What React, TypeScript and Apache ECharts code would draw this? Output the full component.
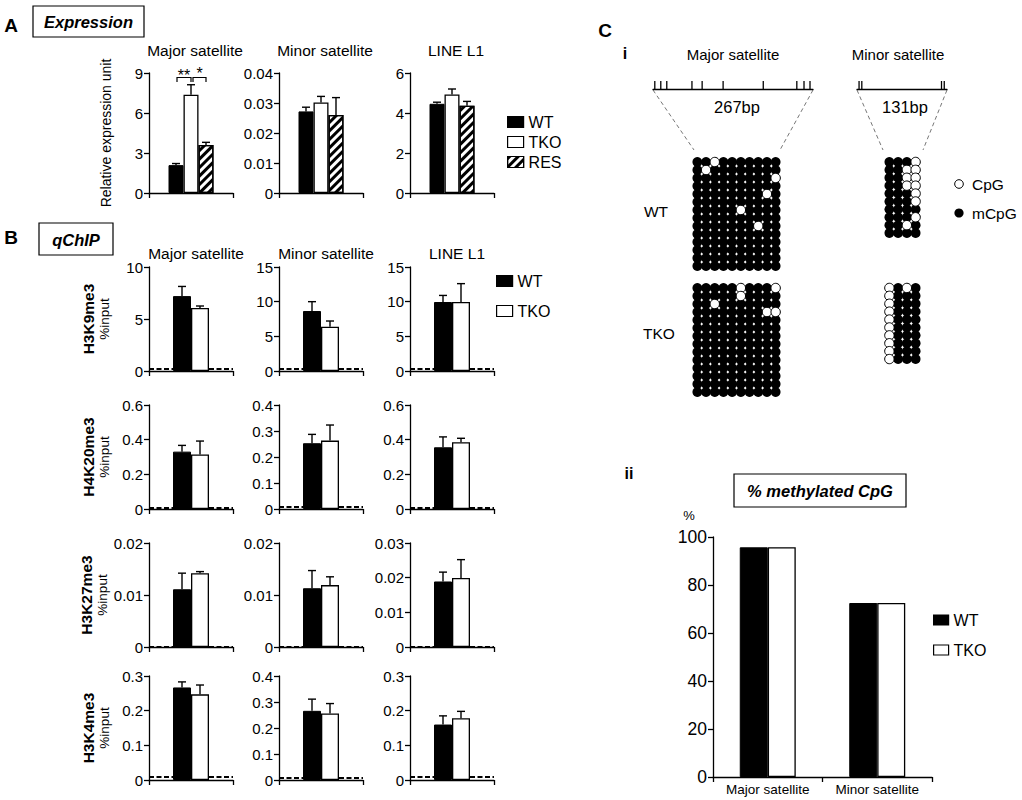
import React, { useEffect, useRef } from 'react';
import * as echarts from 'echarts';

const FONT = "'Liberation Sans', Arial, Helvetica, sans-serif";

// ---------- Panel A: expression ----------
const exprGroups = ['WT', 'TKO', 'RES'];
const exprTargets = ['Major satellite', 'Minor satellite', 'LINE L1'];
const exprMajor = [2.09, 7.37, 3.6];
const exprMajorErr = [0.12, 0.75, 0.2];
const exprMinor = [0.0272, 0.0302, 0.026];
const exprMinorErr = [0.0014, 0.002, 0.0058];
const exprLine = [4.46, 4.93, 4.36];
const exprLineErr = [0.08, 0.27, 0.22];
const exprAxisMax = [9, 0.04, 6];
const exprAxisStep = [3, 0.01, 2];

// ---------- Panel B: qChIP ----------
const chipMarks = ['H3K9me3', 'H4K20me3', 'H3K27me3', 'H3K4me3'];
const chipGroups = ['WT', 'TKO'];
const chipWT = [[7.2, 8.65, 9.95], [0.331, 0.253, 0.356], [0.0111, 0.0113, 0.0189], [0.267, 0.266, 0.16]];
const chipWTErr = [[0.93, 1.35, 0.95], [0.036, 0.034, 0.06], [0.0031, 0.0034, 0.0027], [0.016, 0.045, 0.025]];
const chipTKO = [[6.06, 6.39, 9.95], [0.315, 0.263, 0.385], [0.0142, 0.0119, 0.0199], [0.247, 0.256, 0.178]];
const chipTKOErr = [[0.19, 0.82, 2.65], [0.077, 0.06, 0.023], [0.0003, 0.0016, 0.0053], [0.027, 0.038, 0.02]];
const chipBackground = [[0.18, 0.27, 0.27], [0.011, 0.007, 0.011], [0.0008, 0.0008, 0.0012], [0.0055, 0.007, 0.0055]];
const chipAxisMax = [[10, 15, 15], [0.6, 0.4, 0.6], [0.02, 0.02, 0.03], [0.3, 0.4, 0.3]];
const chipAxisStep = [[5, 5, 5], [0.2, 0.1, 0.2], [0.01, 0.01, 0.01], [0.1, 0.1, 0.1]];

// ---------- Panel C i: bisulfite sequencing ----------
const majorCpGbp = [3, 13, 23, 65, 82, 117, 184, 240, 252, 262];
const majorLength = 267;
const minorCpGbp = [3, 7, 123, 127];
const minorLength = 131;
// 1 = methylated CpG, 0 = unmethylated CpG
const majorWT = [
  '1101111111', '1011111111', '1111111110', '1111111111', '1111111101', '1111111111', '1111101111',
  '1111111111', '1111111011', '1111111111', '1111111111', '1111111111', '1111111111', '1111111111',
];
const majorTKO = [
  '1111101110', '1111101111', '1101111111', '1111111100', '1111111111', '1111111111', '1111111111',
  '1111111111', '1111111111', '1111111111', '1111111111', '1111111111', '1111111111', '1111111111',
];
const minorWT = ['1110', '1100', '1100', '1100', '1110', '1110', '1111', '1110', '1101', '1111'];
const minorTKO = ['0101', '0111', '0111', '0111', '0111', '0111', '0111', '0111', '0111', '0111'];

// ---------- Panel C ii ----------
const methylCategories = ['Major satellite', 'Minor satellite'];
const methylWT = [95.7, 72.5];
const methylTKO = [95.7, 72.5];

function barStyle(name: string): any {
  if (name === 'WT') return { color: '#000', borderColor: '#000', borderWidth: 1 };
  if (name === 'TKO') return { color: '#fff', borderColor: '#000', borderWidth: 1.3 };
  return {
    color: '#fff', borderColor: '#000', borderWidth: 1.3,
    decal: { symbol: 'rect', symbolSize: 1, dashArrayX: [1, 0], dashArrayY: [2.5, 3], rotation: -Math.PI / 4, color: '#000' },
  };
}

function txt(x: number, y: number, t: string, size: number, opt: any = {}) {
  return {
    type: 'text', x, y, silent: true,
    style: {
      text: t, fill: '#000', fontSize: size, fontFamily: FONT,
      fontWeight: opt.bold ? 'bold' : 'normal', fontStyle: opt.italic ? 'italic' : 'normal',
      textAlign: opt.align || 'center', textVerticalAlign: 'middle',
      align: opt.align || 'center', verticalAlign: 'middle',
    },
  };
}

function buildOption() {
  const grid: any[] = [];
  const xAxis: any[] = [];
  const yAxis: any[] = [];
  const series: any[] = [];
  const g: any[] = [];
  const axisLine = { show: true, lineStyle: { color: '#000', width: 1.3 } };
  const axisTick = { show: true, length: 5, lineStyle: { color: '#000', width: 1.3 } };

  function barChart(o: any) {
    const gi = grid.length;
    grid.push({ left: o.left, top: o.top, width: o.width, height: o.height });
    xAxis.push({
      gridIndex: gi, type: 'category', data: [''], axisLine, axisTick,
      axisLabel: { show: false }, splitLine: { show: false },
    });
    yAxis.push({
      gridIndex: gi, type: 'value', min: 0, max: o.max, interval: o.step, axisLine, axisTick,
      axisLabel: { color: '#000', fontSize: 15, fontFamily: FONT, margin: 6 },
      splitLine: { show: false },
      name: o.yName || '', nameLocation: 'middle', nameGap: o.yNameGap || 40, nameRotate: 90,
      nameTextStyle: {
        color: '#000', fontSize: 14, fontFamily: FONT, align: 'center',
        rich: {
          a: { fontSize: 15.5, fontWeight: 'bold', fontFamily: FONT, color: '#000', lineHeight: 17 },
          b: { fontSize: 13.5, fontFamily: FONT, color: '#000', lineHeight: 15 },
        },
      },
    });
    o.names.forEach((nm: string, i: number) => {
      const s: any = {
        type: 'bar', name: nm, xAxisIndex: gi, yAxisIndex: gi, data: [o.values[i]],
        barWidth: o.barWidth, barGap: '0%', itemStyle: barStyle(nm), z: 2,
      };
      if (i === 0 && o.background != null) {
        s.markLine = {
          z: 1, silent: true, symbol: ['none', 'none'], label: { show: false },
          lineStyle: { type: [5, 2.5], color: '#000', width: 1.8, opacity: 1 },
          emphasis: { disabled: true },
          data: [{ yAxis: o.background }],
        };
      }
      series.push(s);
    });
    const n = o.names.length;
    const bw = o.barWidth;
    series.push({
      type: 'custom', name: 'err', xAxisIndex: gi, yAxisIndex: gi, z: 5,
      data: o.values.map((v: number, i: number) => [0, v, o.errs[i], i]),
      encode: { x: 0, y: 1 },
      renderItem: (_p: any, api: any) => {
        const v = api.value(1);
        const e = api.value(2);
        const i = api.value(3);
        const base = api.coord([0, v]);
        const top = api.coord([0, v + e]);
        const x = base[0] + (i - (n - 1) / 2) * bw;
        return {
          type: 'group',
          children: [
            { type: 'line', shape: { x1: x, y1: base[1], x2: x, y2: top[1] }, style: { stroke: '#000', lineWidth: 1.4 } },
            { type: 'line', shape: { x1: x - 4, y1: top[1], x2: x + 4, y2: top[1] }, style: { stroke: '#000', lineWidth: 1.4 } },
          ],
        };
      },
    });
  }

  const colLeft = [149, 279, 410];
  const colWidth = 84;

  // Panel A
  const exprVals = [exprMajor, exprMinor, exprLine];
  const exprErrs = [exprMajorErr, exprMinorErr, exprLineErr];
  exprTargets.forEach((t, j) => {
    barChart({
      left: colLeft[j], top: 73, width: colWidth, height: 120, max: exprAxisMax[j], step: exprAxisStep[j],
      names: exprGroups, values: exprVals[j], errs: exprErrs[j], barWidth: 15,
      yName: j === 0 ? 'Relative expression unit' : '', yNameGap: 36,
    });
    g.push(txt(colLeft[j] + colWidth / 2 + 4, 50, t, 15.5));
  });

  // Panel B
  const rowTop = [267, 405, 543, 676];
  chipMarks.forEach((mark, r) => {
    exprTargets.forEach((t, j) => {
      barChart({
        left: colLeft[j], top: rowTop[r], width: colWidth, height: 104,
        max: chipAxisMax[r][j], step: chipAxisStep[r][j], names: chipGroups,
        values: [chipWT[r][j], chipTKO[r][j]], errs: [chipWTErr[r][j], chipTKOErr[r][j]],
        barWidth: 18, background: chipBackground[r][j],
        yName: j === 0 ? `{a|${mark}}\n{b|%input}` : '', yNameGap: 37,
      });
      if (r === 0) g.push(txt(colLeft[j] + colWidth / 2 + 5, 253, t, 15.5));
    });
  });

  // Panel C i: rulers
  function ruler(left: number, width: number, len: number, pos: number[]) {
    const gi = grid.length;
    grid.push({ left, top: 79, width, height: 10 });
    xAxis.push({
      gridIndex: gi, type: 'value', min: 0, max: len, axisLine, axisTick: { show: false },
      axisLabel: { show: false }, splitLine: { show: false },
    });
    yAxis.push({ gridIndex: gi, type: 'value', min: 0, max: 1, show: false });
    series.push({
      type: 'scatter', xAxisIndex: gi, yAxisIndex: gi, data: pos.map((b) => [b, 0]),
      symbol: 'rect', symbolSize: [1.3, 8], symbolOffset: [0, -4], itemStyle: { color: '#000', opacity: 1 },
    });
  }
  ruler(653, 160, majorLength, majorCpGbp);
  ruler(857, 90, minorLength, minorCpGbp);

  function dots(matrix: string[], left: number, top: number, width: number, height: number) {
    const gi = grid.length;
    const nc = matrix[0].length;
    const nr = matrix.length;
    grid.push({ left, top, width, height });
    xAxis.push({ gridIndex: gi, type: 'value', min: -0.5, max: nc - 0.5, show: false });
    yAxis.push({ gridIndex: gi, type: 'value', min: -0.5, max: nr - 0.5, inverse: true, show: false });
    const filled: number[][] = [];
    const open: number[][] = [];
    matrix.forEach((row, r) => row.split('').forEach((c, col) => (c === '1' ? filled : open).push([col, r])));
    series.push({
      type: 'scatter', xAxisIndex: gi, yAxisIndex: gi, data: filled, symbol: 'circle', symbolSize: 9.8,
      itemStyle: { color: '#000', opacity: 1 }, z: 2,
    });
    series.push({
      type: 'scatter', xAxisIndex: gi, yAxisIndex: gi, data: open, symbol: 'circle', symbolSize: 9.4,
      itemStyle: { color: '#fff', borderColor: '#000', borderWidth: 1, opacity: 1 }, z: 3,
    });
  }
  dots(majorWT, 693, 158, 87, 112);
  dots(majorTKO, 693, 284, 87, 112);
  dots(minorWT, 885, 158, 35, 79);
  dots(minorTKO, 885, 284, 35, 79);

  // Panel C ii
  {
    const gi = grid.length;
    grid.push({ left: 713, top: 537, width: 219, height: 240 });
    xAxis.push({
      gridIndex: gi, type: 'category', data: methylCategories, axisLine, axisTick,
      axisLabel: { color: '#000', fontSize: 13.5, fontFamily: FONT, margin: 5, interval: 0 },
      splitLine: { show: false },
    });
    yAxis.push({
      gridIndex: gi, type: 'value', min: 0, max: 100, interval: 20, axisLine, axisTick,
      axisLabel: { color: '#000', fontSize: 17.5, fontFamily: FONT, margin: 6 }, splitLine: { show: false },
    });
    series.push({ type: 'bar', name: 'WT', xAxisIndex: gi, yAxisIndex: gi, data: methylWT, barWidth: 28, barGap: '0%', itemStyle: barStyle('WT') });
    series.push({ type: 'bar', name: 'TKO', xAxisIndex: gi, yAxisIndex: gi, data: methylTKO, barWidth: 28, barGap: '0%', itemStyle: barStyle('TKO') });
  }

  // Annotations
  const box = (x: number, y: number, w: number, h: number) => ({
    type: 'rect', shape: { x, y, width: w, height: h }, style: { fill: '#fff', stroke: '#000', lineWidth: 1.2 }, silent: true,
  });
  g.push(txt(11, 25, 'A', 19, { bold: true }));
  g.push(box(33, 6, 111, 31));
  g.push(txt(88.5, 22, 'Expression', 16.5, { bold: true, italic: true }));
  g.push(txt(11, 237, 'B', 19, { bold: true }));
  g.push(box(39, 223, 74, 32));
  g.push(txt(76, 239.5, 'qChIP', 16.5, { bold: true, italic: true }));
  g.push({ type: 'polyline', shape: { points: [[177, 82], [177, 77.5], [191, 77.5], [191, 82]] }, style: { stroke: '#000', fill: 'none', lineWidth: 1.2 }, silent: true });
  g.push({ type: 'polyline', shape: { points: [[193, 82], [193, 77.5], [206, 77.5], [206, 82]] }, style: { stroke: '#000', fill: 'none', lineWidth: 1.2 }, silent: true });
  g.push(txt(184, 75, '**', 16));
  g.push(txt(199.5, 73, '*', 16));

  // Panel C labels
  g.push(txt(605, 30, 'C', 19, { bold: true }));
  g.push(txt(625, 53, 'i', 16, { bold: true }));
  g.push(txt(733, 54, 'Major satellite', 15));
  g.push(txt(898, 54, 'Minor satellite', 15));
  g.push(txt(737, 107, '267bp', 16.5));
  g.push(txt(905, 107, '131bp', 16.5));
  const dash = { stroke: '#777', lineWidth: 1, lineDash: [4, 3] };
  g.push({ type: 'line', shape: { x1: 653, y1: 90, x2: 694, y2: 150 }, style: dash, silent: true });
  g.push({ type: 'line', shape: { x1: 813, y1: 90, x2: 780, y2: 150 }, style: dash, silent: true });
  g.push({ type: 'line', shape: { x1: 857, y1: 90, x2: 883, y2: 150 }, style: dash, silent: true });
  g.push({ type: 'line', shape: { x1: 947, y1: 90, x2: 923, y2: 150 }, style: dash, silent: true });
  g.push(txt(656, 211, 'WT', 15.5));
  g.push(txt(659, 333, 'TKO', 15.5));
  g.push({ type: 'circle', shape: { cx: 959, cy: 184, r: 4.3 }, style: { fill: '#fff', stroke: '#000', lineWidth: 1 }, silent: true });
  g.push(txt(972, 184, 'CpG', 15.5, { align: 'left' }));
  g.push({ type: 'circle', shape: { cx: 959, cy: 213, r: 4.6 }, style: { fill: '#000' }, silent: true });
  g.push(txt(972, 213, 'mCpG', 15.5, { align: 'left' }));
  g.push(txt(629, 473, 'ii', 16, { bold: true }));
  g.push(box(734, 474, 172, 33));
  g.push(txt(820, 491, '% methylated CpG', 16.5, { bold: true, italic: true }));
  g.push(txt(689, 515, '%', 13));

  const legendBase = {
    orient: 'vertical', icon: 'rect', selectedMode: false, padding: 0,
    textStyle: { color: '#000', fontSize: 16, fontFamily: FONT },
    itemStyle: { borderColor: '#000', borderWidth: 1.2 },
  };

  return {
    animation: false,
    backgroundColor: '#fff',
    grid, xAxis, yAxis, series,
    legend: [
      { ...legendBase, data: exprGroups, left: 507, top: 114, itemWidth: 16, itemHeight: 11, itemGap: 4 },
      { ...legendBase, data: chipGroups, left: 496, top: 273, itemWidth: 16, itemHeight: 11, itemGap: 14 },
      { ...legendBase, data: ['WT', 'TKO'], left: 933, top: 612, itemWidth: 15, itemHeight: 10, itemGap: 14 },
    ],
    graphic: { elements: g },
  };
}

export default function App() {
  const ref = useRef<HTMLDivElement>(null);
  useEffect(() => {
    const chart = echarts.init(ref.current as HTMLDivElement, null, { renderer: 'svg' });
    chart.setOption(buildOption() as any);
    return () => chart.dispose();
  }, []);
  return (
    <div
      ref={ref}
      style={{ position: 'absolute', left: 0, top: 0, width: 1022, height: 800, background: '#fff' }}
    />
  );
}
